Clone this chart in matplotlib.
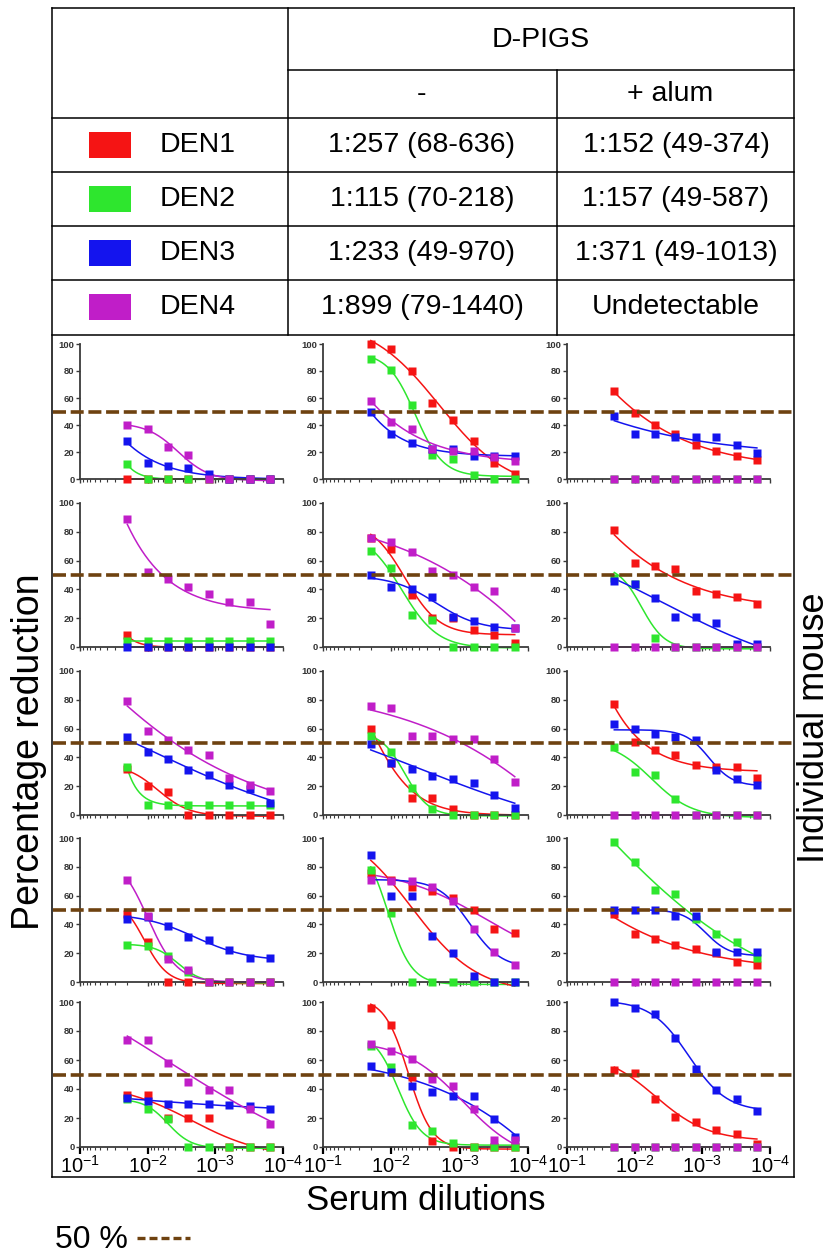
import matplotlib
matplotlib.use("Agg")
import matplotlib.pyplot as plt
import numpy as np
from matplotlib.lines import Line2D
from matplotlib.patches import Rectangle
from matplotlib.ticker import LogLocator, NullFormatter

plt.rcParams['font.family'] = ['Liberation Sans', 'DejaVu Sans']
plt.rcParams['mathtext.fontset'] = 'custom'
plt.rcParams['mathtext.rm'] = 'Liberation Sans'
plt.rcParams['mathtext.it'] = 'Liberation Sans:italic'
plt.rcParams['mathtext.bf'] = 'Liberation Sans:bold'

# serum dilution factors (1:50 ... 1:6400)
DILUTIONS = [50, 100, 200, 400, 800, 1600, 3200, 6400]

# table
SEROTYPES = ["DEN1", "DEN2", "DEN3", "DEN4"]
TITERS_NO_ALUM = ["1:257 (68-636)", "1:115 (70-218)", "1:233 (49-970)", "1:899 (79-1440)"]
TITERS_ALUM = ["1:152 (49-374)", "1:157 (49-587)", "1:371 (49-1013)", "Undetectable"]

# % reduction per mouse panel, panels row by row (5 mice x 3 columns)
DEN1 = [
    [0, 0, 0, 0, 0, 0, 0, 0], [100, 96, 80, 56, 44, 28, 12, 4], [65, 49, 40, 33, 25, 21, 17, 14],
    [8, 0, 0, 0, 0, 0, 0, 0], [76, 68, 36, 20, 20, 12, 8, 3], [81, 58, 56, 54, 39, 37, 35, 30],
    [32, 20, 16, 0, 0, 0, 0, 0], [60, 36, 12, 12, 4, 0, 0, 0], [77, 51, 45, 42, 35, 33, 33, 26],
    [47, 28, 0, 0, 0, 0, 0, 0], [76, 71, 66, 63, 58, 50, 37, 34], [47, 33, 30, 26, 23, 20, 14, 12],
    [36, 36, 20, 20, 20, 0, 0, 0], [96, 84, 48, 4, 0, 0, 0, 0], [53, 51, 33, 21, 17, 12, 9, 2],
]
DEN2 = [
    [11, 0, 0, 0, 0, 0, 0, 0], [89, 81, 55, 18, 15, 3, 0, 0], [0, 0, 0, 0, 0, 0, 0, 0],
    [4, 4, 4, 4, 4, 4, 4, 4], [67, 55, 22, 19, 0, 0, 0, 0], [48, 44, 6, 0, 0, 0, 0, 0],
    [33, 7, 7, 7, 7, 7, 7, 7], [55, 44, 19, 4, 0, 0, 0, 0], [47, 30, 28, 11, 0, 0, 0, 0],
    [26, 25, 18, 7, 0, 0, 0, 0], [78, 48, 0, 0, 0, 0, 0, 0], [97, 83, 64, 61, 44, 33, 28, 17],
    [33, 26, 19, 0, 0, 0, 0, 0], [70, 55, 15, 11, 3, 0, 0, 0], [0, 0, 0, 0, 0, 0, 0, 0],
]
DEN3 = [
    [28, 12, 10, 8, 4, 0, 0, 0], [50, 33, 27, 22, 22, 17, 17, 17], [47, 33, 33, 31, 31, 31, 25, 19],
    [0, 0, 0, 0, 0, 0, 0, 0], [50, 42, 40, 35, 21, 18, 14, 13], [46, 44, 34, 21, 21, 17, 2, 2],
    [54, 44, 39, 31, 28, 21, 18, 8], [49, 36, 32, 27, 25, 22, 14, 5], [63, 60, 56, 54, 52, 31, 25, 21],
    [44, 45, 39, 31, 29, 22, 17, 17], [88, 60, 60, 32, 20, 4, 0, 0], [50, 50, 50, 46, 46, 21, 21, 21],
    [34, 32, 30, 30, 30, 29, 28, 26], [56, 52, 42, 38, 35, 35, 19, 7], [100, 96, 92, 75, 54, 39, 33, 25],
]
DEN4 = [
    [40, 37, 24, 18, 0, 0, 0, 0], [58, 42, 37, 22, 21, 21, 16, 13], [0, 0, 0, 0, 0, 0, 0, 0],
    [89, 52, 47, 42, 37, 31, 31, 16], [76, 73, 66, 53, 50, 42, 39, 13], [0, 0, 0, 0, 0, 0, 0, 0],
    [79, 58, 52, 45, 42, 26, 21, 17], [76, 74, 55, 55, 53, 53, 39, 23], [0, 0, 0, 0, 0, 0, 0, 0],
    [71, 46, 16, 8, 0, 0, 0, 0], [71, 70, 70, 66, 56, 37, 21, 12], [0, 0, 0, 0, 0, 0, 0, 0],
    [74, 74, 58, 45, 39, 39, 26, 16], [71, 66, 61, 47, 42, 26, 5, 5], [0, 0, 0, 0, 0, 0, 0, 0],
]

COLORS = {"DEN1": "#f51414", "DEN2": "#2ee62e", "DEN3": "#1414ee", "DEN4": "#c01ec8"}
BROWN = "#6e4210"
# in the original, one panel has its fitted curves drawn in shuffled colours
CURVE_COLOR_SWAP = {10: {"DEN3": "DEN1", "DEN1": "DEN4", "DEN4": "DEN3"}}

W, H = 832, 1253
fig = plt.figure(figsize=(W / 100, H / 100), dpi=100)


def fx(px):
    return px / W


def fy(py):
    return 1 - py / H


def fit_4pl(x, y):
    # grid search for a 4-parameter logistic, linear part solved directly
    cc, hh = np.meshgrid(np.linspace(0.0, 6.0, 121), np.linspace(0.3, 2.5, 45))
    cc, hh = cc.ravel(), hh.ravel()
    F = 1 / (1 + 10 ** ((x[None, :] - cc[:, None]) * hh[:, None]))
    fm = F.mean(1)
    ym = y.mean()
    var = ((F - fm[:, None]) ** 2).sum(1)
    cov = ((F - fm[:, None]) * (y - ym)).sum(1)
    b = np.where(var > 1e-12, cov / np.maximum(var, 1e-12), 0)
    a = ym - b * fm
    sse = ((a[:, None] + b[:, None] * F - y) ** 2).sum(1)
    i = np.argmin(sse)
    return a[i], b[i], cc[i], hh[i]


def line_pts(xs, ys, **kw):
    fig.add_artist(Line2D([fx(v) for v in xs], [fy(v) for v in ys],
                          transform=fig.transFigure, **kw))


# ---- table ----
L, R = 52, 794
tk = dict(color="black", lw=1.1)
line_pts([L, R], [8, 8], **tk)
line_pts([288, R], [70, 70], **tk)
for yy in [118, 172, 226, 280, 335]:
    line_pts([L, R], [yy, yy], **tk)
line_pts([L, L], [8, 1177], **tk)
line_pts([R, R], [8, 1177], **tk)
line_pts([L, R], [1177, 1177], **tk)
line_pts([288, 288], [8, 335], **tk)
line_pts([557, 557], [70, 335], **tk)

fs = 20.5
fig.text(fx(541), fy(40), "D-PIGS", ha="center", va="center", fontsize=fs)
fig.text(fx(422), fy(94), "-", ha="center", va="center", fontsize=fs)
fig.text(fx(670), fy(94), "+ alum", ha="center", va="center", fontsize=fs)
row_y = [145, 199, 253, 307]
for k, name in enumerate(SEROTYPES):
    yc = row_y[k]
    fig.add_artist(Rectangle((fx(89), fy(yc + 13)), fx(131) - fx(89), fy(yc - 13) - fy(yc + 13),
                             transform=fig.transFigure, color=COLORS[name], lw=0))
    fig.text(fx(160), fy(yc), name, ha="left", va="center", fontsize=fs)
    fig.text(fx(422), fy(yc), TITERS_NO_ALUM[k], ha="center", va="center", fontsize=fs)
    fig.text(fx(676), fy(yc), TITERS_ALUM[k], ha="center", va="center", fontsize=fs)

# ---- panels ----
col_l = [80, 323, 567]
col_r = [283, 528, 770]
row_t = [344, 503, 671, 838, 1002]
row_b = [479, 647, 815, 982, 1147]

xdil = np.log10(DILUTIONS)
xx = np.linspace(xdil[0], xdil[-1], 200)
series = {"DEN1": DEN1, "DEN2": DEN2, "DEN3": DEN3, "DEN4": DEN4}

for r in range(5):
    for c in range(3):
        p = r * 3 + c
        ax = fig.add_axes([fx(col_l[c]), fy(row_b[r]), fx(col_r[c]) - fx(col_l[c]),
                           fy(row_t[r]) - fy(row_b[r])])
        for name in SEROTYPES:
            y = np.array(series[name][p], dtype=float)
            a, b, x50, h = fit_4pl(xdil, y)
            curve = a + b / (1 + 10 ** ((xx - x50) * h))
            ccol = COLORS[CURVE_COLOR_SWAP.get(p, {}).get(name, name)]
            ax.plot(10 ** (-xx), curve, color=ccol, lw=1.1, zorder=2, clip_on=False)
            ax.plot(10 ** (-xdil), y, ls="none", marker="s", ms=6.2, color=COLORS[name],
                    mec="none", zorder=3, clip_on=False)
        ax.set_xscale("log")
        ax.set_xlim(1e-1, 1e-4)
        ax.set_ylim(0, 100)
        ax.set_yticks([0, 20, 40, 60, 80, 100])
        ax.set_xticks([1e-1, 1e-2, 1e-3, 1e-4])
        ax.xaxis.set_minor_locator(LogLocator(base=10, subs=np.arange(2, 10), numticks=20))
        ax.xaxis.set_minor_formatter(NullFormatter())
        for s in ["top", "right"]:
            ax.spines[s].set_visible(False)
        for s in ["left", "bottom"]:
            ax.spines[s].set_color("#3a3a3a")
            ax.spines[s].set_linewidth(1.3)
        ax.patch.set_alpha(0)
        ax.tick_params(axis="y", length=3, width=1, color="#3a3a3a", pad=1,
                       labelsize=6.8, labelcolor="#333333")
        for t in ax.get_yticklabels():
            t.set_fontweight("bold")
        ax.tick_params(axis="x", which="minor", length=2, width=0.8, color="#3a3a3a")
        if r == 4:
            ax.set_xticklabels(["$10^{-1}$", "$10^{-2}$", "$10^{-3}$", "$10^{-4}$"])
            ax.tick_params(axis="x", which="major", length=5, width=1.6, color="black",
                           labelsize=14.5, pad=1)
        else:
            ax.set_xticklabels([])
            ax.tick_params(axis="x", which="major", length=3, width=1, color="#3a3a3a")
        # 50 % reference line across the whole frame
        ymid = (row_t[r] + row_b[r]) / 2
        if c == 0:
            line_pts([L + 1, R - 1], [ymid, ymid], color=BROWN, lw=2.6, dashes=(3.6, 1.3),
                     zorder=5)

fig.text(fx(29), fy(752), "Percentage reduction", rotation=90, ha="center", va="center",
         fontsize=27)
fig.text(fx(814), fy(728), "Individual mouse", rotation=90, ha="center", va="center",
         fontsize=26)
fig.text(fx(426), fy(1200), "Serum dilutions", ha="center", va="center", fontsize=25)
fig.text(fx(55), fy(1240), "50 %", ha="left", va="center", fontsize=23)
line_pts([137, 190], [1238, 1238], color=BROWN, lw=2.4, dashes=(2.4, 1.2))

fig.savefig("out.png", dpi=100)
